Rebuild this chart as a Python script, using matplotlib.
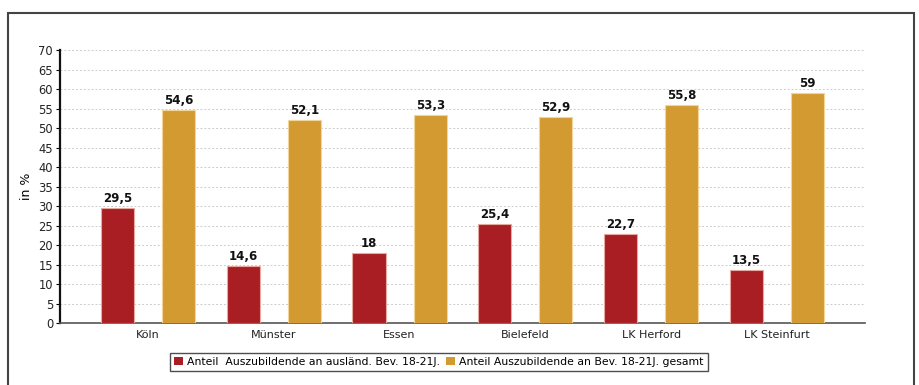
import matplotlib
matplotlib.use("Agg")
import matplotlib.pyplot as plt
import numpy as np
from matplotlib.patches import Rectangle

categories = ["Köln", "Münster", "Essen", "Bielefeld", "LK Herford", "LK Steinfurt"]
series_auslaend = [29.5, 14.6, 18, 25.4, 22.7, 13.5]
series_gesamt = [54.6, 52.1, 53.3, 52.9, 55.8, 59]
series_names = ["Anteil  Auszubildende an ausländ. Bev. 18-21J.",
                "Anteil Auszubildende an Bev. 18-21J. gesamt"]
yticks = list(range(0, 75, 5))

def fmt(v):
    s = ("%g" % v).replace(".", ",")
    return s

plt.rcParams['font.family'] = ['DejaVu Sans']
fig = plt.figure(figsize=(9.2, 3.85), dpi=100)
ax = fig.add_axes([0.0652, 0.161, 0.875, 0.709])

x = np.arange(len(categories))
w = 0.263
off = 0.243
c1 = "#A91E23"
c2 = "#D49A32"
b1 = ax.bar(x - off, series_auslaend, w, color=c1, edgecolor="#E6A9A0", linewidth=0.8, label=series_names[0], zorder=3)
b2 = ax.bar(x + off, series_gesamt, w, color=c2, edgecolor="#F2D59A", linewidth=0.8, label=series_names[1], zorder=3)

for bars, vals in ((b1, series_auslaend), (b2, series_gesamt)):
    for rect, v in zip(bars, vals):
        ax.text(rect.get_x() + rect.get_width() / 2, v + 0.8, fmt(v), ha="center", va="bottom",
                fontsize=8.5, fontweight="bold", color="#111111")

ax.set_xlim(-0.70, 5.70)
ax.set_ylim(0, 70)
ax.set_yticks(yticks)
ax.set_yticklabels([str(t) for t in yticks], fontsize=8.3, color="#222222")
ax.set_xticks(x)
ax.set_xticklabels(categories, fontsize=8, color="#222222")
ax.tick_params(axis="x", length=0, pad=5)
ax.tick_params(axis="y", length=3, width=0.8, pad=2, direction="out")
ax.set_ylabel("in %", fontsize=9, labelpad=4)

ax.yaxis.grid(True, linestyle=(0, (2, 2)), color="#CCCCCC", linewidth=0.7, zorder=0)
ax.set_axisbelow(True)
for s in ("top", "right"):
    ax.spines[s].set_visible(False)
ax.spines["left"].set_linewidth(1.6)
ax.spines["left"].set_color("#111111")
ax.spines["bottom"].set_linewidth(1.2)
ax.spines["bottom"].set_color("#555555")

leg = fig.legend(handles=[b1, b2], labels=series_names, loc="center", bbox_to_anchor=(0.477, 0.06),
                 ncol=2, fontsize=7.8, frameon=True, fancybox=False, handlelength=0.8, handleheight=0.8,
                 handletextpad=0.4, columnspacing=0.6, borderpad=0.35, borderaxespad=0)
leg.get_frame().set_edgecolor("#222222")
leg.get_frame().set_linewidth(1.0)
for h in leg.legend_handles:
    h.set_edgecolor("none")

frame = Rectangle((8 / 920, -0.1), (914 - 8) / 920, 1 - 13 / 385 + 0.1, transform=fig.transFigure,
                  fill=False, edgecolor="#444444", linewidth=1.5)
fig.patches.append(frame)

fig.savefig("out.png", dpi=100)
